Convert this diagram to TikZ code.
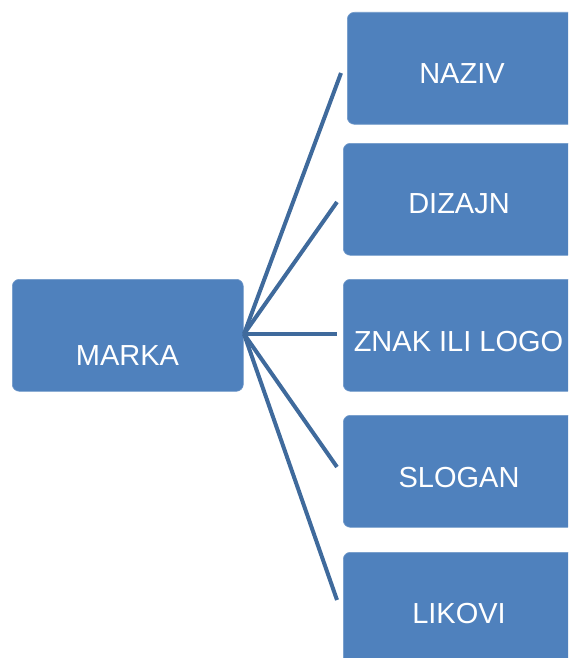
\documentclass[tikz,border=0pt]{standalone}
\usepackage{fontspec}
\setmainfont{Liberation Sans}
\definecolor{boxblue}{HTML}{4F81BD}
\definecolor{lineblue}{HTML}{3F6A9C}
\begin{document}
\begin{tikzpicture}[x=1pt,y=-1pt,
  box/.style={fill=boxblue, draw=boxblue!80!white, line width=0.6pt, rounded corners=7pt, minimum width=231pt, minimum height=112pt, inner sep=0pt, anchor=north west},
  lbl/.style={text=white, font=\fontsize{29}{34}\selectfont, anchor=base, inner sep=0pt},
  conn/.style={draw=lineblue, line width=4pt}]
\useasboundingbox (0,0) rectangle (568,658);
\clip (0,0) rectangle (568,658);
\node[box] (marka) at (12,279) {};
\node[box] (naziv) at (347,12) {};
\node[box] (dizajn) at (343,143) {};
\node[box] (znak) at (343,279) {};
\node[box] (slogan) at (343,415) {};
\node[box] (likovi) at (343,552) {};
\node[lbl] (tmarka) at (127.5,365) {MARKA};
\node[lbl] (tnaziv) at (462,84) {NAZIV};
\node[lbl] (tdizajn) at (459,213) {DIZAJN};
\node[lbl] (tznak) at (458.5,351) {ZNAK ILI LOGO};
\node[lbl] (tslogan) at (459,487) {SLOGAN};
\node[lbl] (tlikovi) at (459,623) {LIKOVI};
\coordinate (hub) at (244,334);
\coordinate (enaziv) at (341,73);
\coordinate (edizajn) at (337,202);
\coordinate (eznak) at (337,334);
\coordinate (eslogan) at (337,467);
\coordinate (elikovi) at (337,600);
\draw[conn] (hub) -- (enaziv);
\draw[conn] (hub) -- (edizajn);
\draw[conn] (hub) -- (eznak);
\draw[conn] (hub) -- (eslogan);
\draw[conn] (hub) -- (elikovi);
\end{tikzpicture}
\end{document}
